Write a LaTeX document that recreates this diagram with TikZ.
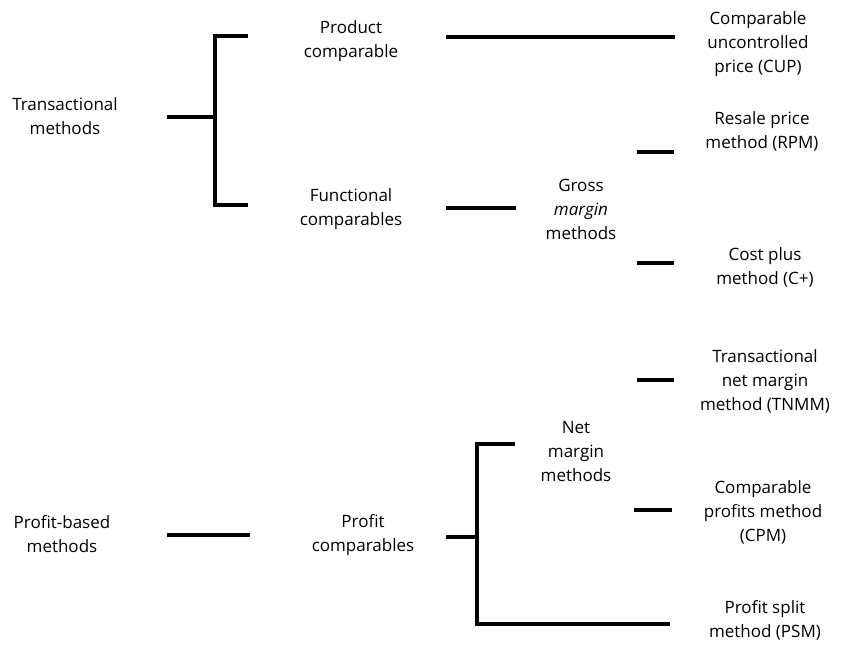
\documentclass[tikz,border=0pt]{standalone}
\usepackage{fontspec}
\setmainfont{Open Sans}
\begin{document}
\begin{tikzpicture}[x=1pt,y=-1pt,
  lbl/.style={align=center,font=\fontsize{17}{24}\selectfont,inner sep=0pt},
  ln/.style={line width=3.5pt,line cap=butt}]
\useasboundingbox (0,0) rectangle (842,650);
% text nodes
\node[lbl] (tm) at (65,116) {Transactional\\methods};
\node[lbl] (pc) at (351,41) {Product\\comparable};
\node[lbl] (fc) at (351,209) {Functional\\comparables};
\node[lbl] (cup) at (758,44) {Comparable\\uncontrolled\\price (CUP)};
\node[lbl] (gm) at (581,209) {Gross\\\textit{margin}\\methods};
\node[lbl] (rpm) at (762,131) {Resale price\\method (RPM)};
\node[lbl] (cp) at (765,267) {Cost plus\\method (C+)};
\node[lbl] (tnmm) at (765,381) {Transactional\\net margin\\method (TNMM)};
\node[lbl] (nm) at (576,452) {Net\\margin\\methods};
\node[lbl] (cpm) at (763,512) {Comparable\\profits method\\(CPM)};
\node[lbl] (psm) at (765,620) {Profit split\\method (PSM)};
\node[lbl] (pb) at (62,534) {Profit-based\\methods};
\node[lbl] (prc) at (363,535) {Profit\\comparables};
% connector coordinates
\coordinate (b1s) at (167,117);
\coordinate (b1m) at (215,117);
\coordinate (b1t) at (215,36);
\coordinate (b1b) at (215,205);
\coordinate (b1te) at (248,36);
\coordinate (b1be) at (248,205);
\coordinate (cupa) at (446,37);
\coordinate (cupb) at (675,37);
\coordinate (fga) at (446,208);
\coordinate (fgb) at (516,208);
\coordinate (rpma) at (637,152);
\coordinate (rpmb) at (674,152);
\coordinate (cpa) at (637,263);
\coordinate (cpb) at (674,263);
\coordinate (tna) at (637,380);
\coordinate (tnb) at (674,380);
\coordinate (cpma) at (634,510);
\coordinate (cpmb) at (672,510);
\coordinate (pba) at (167,535);
\coordinate (pbb) at (250,535);
\coordinate (b2s) at (446,537);
\coordinate (b2m) at (477,537);
\coordinate (b2t) at (477,444);
\coordinate (b2b) at (477,624);
\coordinate (b2te) at (515,444);
\coordinate (b2be) at (670,624);
% connectors
\draw[ln] (b1s) -- (b1m);
\draw[ln,line join=miter] (b1te) -- (b1t) -- (b1b) -- (b1be);
\draw[ln] (cupa) -- (cupb);
\draw[ln] (fga) -- (fgb);
\draw[ln] (rpma) -- (rpmb);
\draw[ln] (cpa) -- (cpb);
\draw[ln] (tna) -- (tnb);
\draw[ln] (cpma) -- (cpmb);
\draw[ln] (pba) -- (pbb);
\draw[ln] (b2s) -- (b2m);
\draw[ln,line join=miter] (b2te) -- (b2t) -- (b2b) -- (b2be);
\end{tikzpicture}
\end{document}
